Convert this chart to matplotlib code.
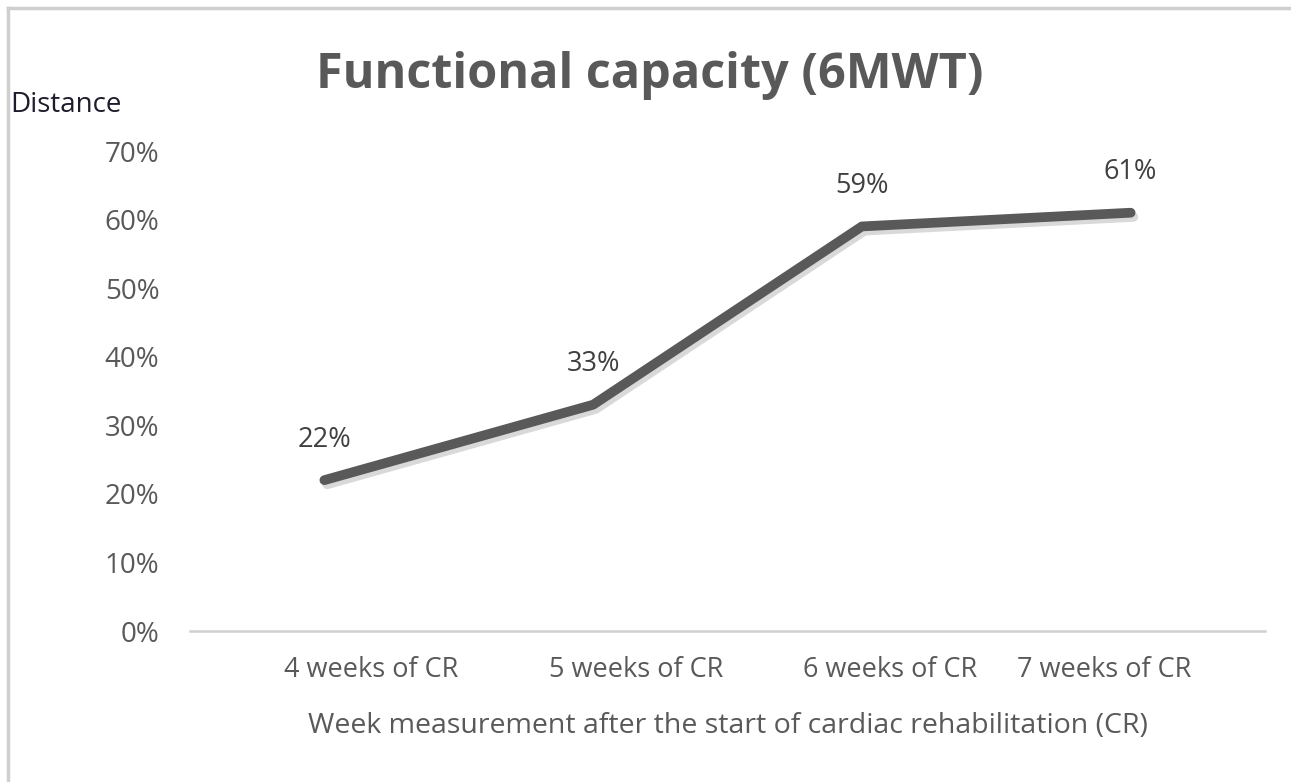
import matplotlib
matplotlib.use("Agg")
import matplotlib.pyplot as plt
import matplotlib.patheffects as pe
from matplotlib.lines import Line2D
from matplotlib.transforms import ScaledTranslation

# data
categories = ["4 weeks of CR", "5 weeks of CR", "6 weeks of CR", "7 weeks of CR"]
distance_pct = [22, 33, 59, 61]
y_ticks = [0, 10, 20, 30, 40, 50, 60, 70]

title = "Functional capacity (6MWT)"
x_title = "Week measurement after the start of cardiac rehabilitation (CR)"
y_title = "Distance"

# label shifts (points) so the category names sit as in the original
label_shift = [34, 31, 20, -19]

plt.rcParams["font.family"] = ["Open Sans", "DejaVu Sans"]
grey = "#595959"

fig = plt.figure(figsize=(12.91, 7.82), dpi=100)
ax = fig.add_axes([190 / 1291, 1 - 631 / 782, 1075 / 1291, 480 / 782])

xs = list(range(len(categories)))
ax.plot(xs, distance_pct, color=grey, lw=7, solid_capstyle="round",
        solid_joinstyle="round",
        path_effects=[pe.SimpleLineShadow(offset=(2, -3), shadow_color="black", alpha=0.15),
                      pe.Normal()])

for x, v in zip(xs, distance_pct):
    ax.annotate(f"{v}%", (x, v), xytext=(0, 19), textcoords="offset points",
                ha="center", va="bottom", fontsize=19.5, color="#404040")

ax.set_xlim(-0.5, len(categories) - 0.5)
ax.set_ylim(0, 70)
ax.set_yticks(y_ticks)
ax.set_yticklabels([f"{t}%" for t in y_ticks])
ax.set_xticks(xs)
ax.set_xticklabels(categories)

ax.tick_params(axis="y", length=0, pad=22, labelsize=20, labelcolor=grey)
ax.tick_params(axis="x", length=0, pad=18, labelsize=19.5, labelcolor=grey)
for lab, dx in zip(ax.get_xticklabels(), label_shift):
    lab.set_transform(lab.get_transform() + ScaledTranslation(dx / 72, 0, fig.dpi_scale_trans))

for s in ["top", "right", "left"]:
    ax.spines[s].set_visible(False)
ax.spines["bottom"].set_color("#d0d0d0")
ax.spines["bottom"].set_linewidth(1.8)

ax.set_xlabel(x_title, fontsize=20.5, color=grey, labelpad=20)

fig.text(0.503, 1 - 76 / 782, title, ha="center", va="center", fontsize=35,
         fontweight="bold", color=grey)
fig.text(10 / 1291, 1 - 105 / 782, y_title, ha="left", va="center",
         fontsize=20, color="#1c1c2c")

# thin frame on top and left like the screenshot
fig.add_artist(Line2D([8 / 1291, 1], [1 - 8 / 782, 1 - 8 / 782], color="#cfcfcf", lw=2.5))
fig.add_artist(Line2D([8 / 1291, 8 / 1291], [0, 1 - 8 / 782], color="#cfcfcf", lw=2.5))

fig.savefig("out.png", dpi=100)
